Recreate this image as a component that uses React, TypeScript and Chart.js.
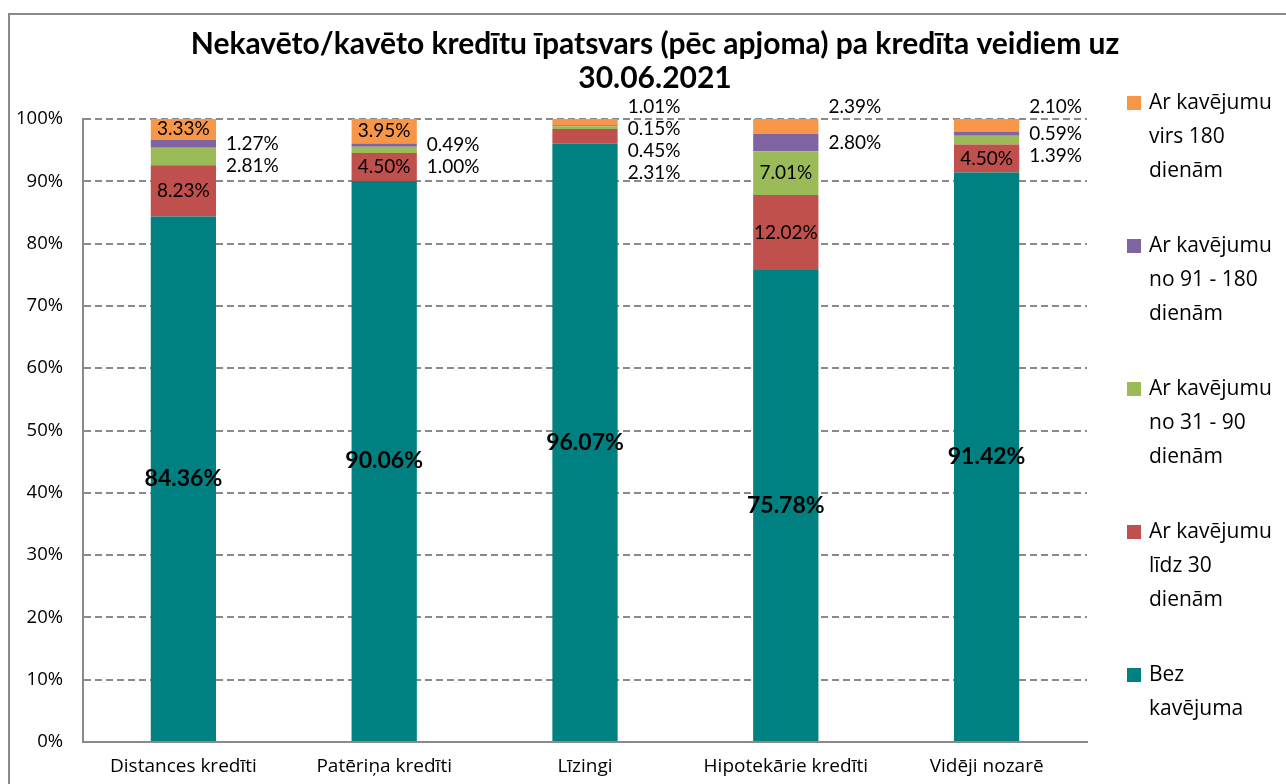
import React, { useEffect, useRef } from "react";
import { Chart, registerables } from "chart.js";

Chart.register(...registerables);

const categories = ["Distances kredīti", "Patēriņa kredīti", "Līzingi", "Hipotekārie kredīti", "Vidēji nozarē"];
const bezKavejuma = [84.36, 90.06, 96.07, 75.78, 91.42];
const lidz30 = [8.23, 4.5, 2.31, 12.02, 4.5];
const no31lidz90 = [2.81, 1.0, 0.45, 7.01, 1.39];
const no91lidz180 = [1.27, 0.49, 0.15, 2.8, 0.59];
const virs180 = [3.33, 3.95, 1.01, 2.39, 2.1];

const seriesLabels = [
  "Bez\nkavējuma",
  "Ar kavējumu\nlīdz 30\ndienām",
  "Ar kavējumu\nno 31 - 90\ndienām",
  "Ar kavējumu\nno 91 - 180\ndienām",
  "Ar kavējumu\nvirs 180\ndienām",
];
const seriesColors = ["#008080", "#C0504D", "#9BBB59", "#8064A2", "#F79646"];
const titleLines = ["Nekavēto/kavēto kredītu īpatsvars (pēc apjoma) pa kredīta veidiem uz", "30.06.2021"];
const yMin = 0;
const yMax = 100;
const yStep = 10;

const LABEL_FONT = "Lato, 'Open Sans', sans-serif";
const AXIS_FONT = "'Open Sans', sans-serif";

const titlePlugin = {
  id: "customTitle",
  afterDraw(chart: any) {
    const ctx = chart.ctx;
    const ca = chart.chartArea;
    ctx.save();
    ctx.fillStyle = "#000";
    ctx.font = `bold 30px ${LABEL_FONT}`;
    ctx.textAlign = "center";
    ctx.textBaseline = "middle";
    titleLines.forEach((line, i) => {
      ctx.fillText(line, chart.width / 2, ca.top - 75 + i * 34);
    });
    ctx.restore();
  },
};

const legendPlugin = {
  id: "customLegend",
  afterDraw(chart: any) {
    const ctx = chart.ctx;
    const ca = chart.chartArea;
    const lineH = 34;
    const gap = 41;
    ctx.save();
    ctx.font = `21px ${AXIS_FONT}`;
    ctx.textAlign = "left";
    ctx.textBaseline = "middle";
    let y = ca.top - 16;
    const ds = chart.data.datasets;
    for (let d = ds.length - 1; d >= 0; d--) {
      const lines = String(ds[d].label).split("\n");
      ctx.fillStyle = ds[d].backgroundColor;
      ctx.fillRect(ca.right + 40, y - 7, 14, 14);
      ctx.fillStyle = "#000";
      lines.forEach((ln, k) => ctx.fillText(ln, ca.right + 62, y + k * lineH));
      y += lines.length * lineH + gap;
    }
    ctx.restore();
  },
};

const labelPlugin = {
  id: "segmentLabels",
  afterDatasetsDraw(chart: any) {
    const ctx = chart.ctx;
    const ds = chart.data.datasets;
    ctx.save();
    ctx.fillStyle = "#000";
    ctx.textBaseline = "middle";
    for (let i = 0; i < categories.length; i++) {
      let prevY = -Infinity;
      for (let d = ds.length - 1; d >= 0; d--) {
        const value = ds[d].data[i] as number;
        const bar = chart.getDatasetMeta(d).data[i].getProps(["x", "y", "base", "width"], true);
        const text = value.toFixed(2) + "%";
        const center = (bar.y + bar.base) / 2;
        if (d === 0) {
          ctx.font = `bold 23px ${LABEL_FONT}`;
          ctx.textAlign = "center";
          ctx.fillText(text, bar.x, center);
        } else if (value >= 3) {
          ctx.font = `19px ${LABEL_FONT}`;
          ctx.textAlign = "center";
          ctx.fillText(text, bar.x, center);
        } else {
          let y = d === ds.length - 1 ? Math.min(bar.y, bar.base) - 12 : center;
          y = Math.max(y, prevY + 22);
          prevY = y;
          ctx.font = `19px ${LABEL_FONT}`;
          ctx.textAlign = "left";
          ctx.fillText(text, bar.x + bar.width / 2 + 10, y);
        }
      }
    }
    ctx.restore();
  },
};

export default function App() {
  const canvasRef = useRef<HTMLCanvasElement | null>(null);

  useEffect(() => {
    const canvas = canvasRef.current;
    if (!canvas) return;
    const seriesValues = [bezKavejuma, lidz30, no31lidz90, no91lidz180, virs180];
    const chart = new Chart(canvas, {
      type: "bar",
      data: {
        labels: categories,
        datasets: seriesValues.map((vals, k) => ({
          label: seriesLabels[k],
          data: vals,
          backgroundColor: seriesColors[k],
          borderWidth: 0,
          categoryPercentage: 1,
          barPercentage: 0.325,
        })),
      },
      options: {
        responsive: false,
        animation: false,
        devicePixelRatio: 1,
        layout: { padding: { top: 104, right: 213, left: 0, bottom: 0 } },
        plugins: {
          legend: { display: false },
          title: { display: false },
          tooltip: { enabled: false },
        },
        scales: {
          x: {
            stacked: true,
            grid: { display: false, drawTicks: false },
            border: { display: true, color: "#8a8a8a", width: 2 },
            ticks: {
              color: "#000",
              font: { family: AXIS_FONT, size: 19 },
              padding: 13,
              maxRotation: 0,
              autoSkip: false,
            },
            afterFit(scale: any) {
              scale.height = 42;
            },
          },
          y: {
            stacked: true,
            min: yMin,
            max: yMax,
            grid: { color: "#8a8a8a", lineWidth: 2, drawTicks: false },
            border: { display: true, color: "#8a8a8a", width: 2, dash: [7, 4] },
            ticks: {
              stepSize: yStep,
              color: "#000",
              font: { family: AXIS_FONT, size: 18.5 },
              padding: 20,
              callback: (v: any) => v + "%",
            },
            afterFit(scale: any) {
              scale.width = 73;
            },
          },
        },
      },
      plugins: [labelPlugin, titlePlugin, legendPlugin],
    });
    return () => chart.destroy();
  }, []);

  return (
    <div style={{ position: "fixed", left: 0, top: 0, width: 1286, height: 784, overflow: "hidden", background: "#fff" }}>
      <div
        style={{
          position: "absolute",
          left: 8,
          top: 13,
          width: 1310,
          height: 800,
          borderTop: "2px solid #8a8a8a",
          borderLeft: "2px solid #8a8a8a",
          boxSizing: "border-box",
        }}
      />
      <canvas
        ref={canvasRef}
        width={1290}
        height={769}
        style={{ position: "absolute", left: 10, top: 15, width: 1290, height: 769, display: "block" }}
      />
    </div>
  );
}
